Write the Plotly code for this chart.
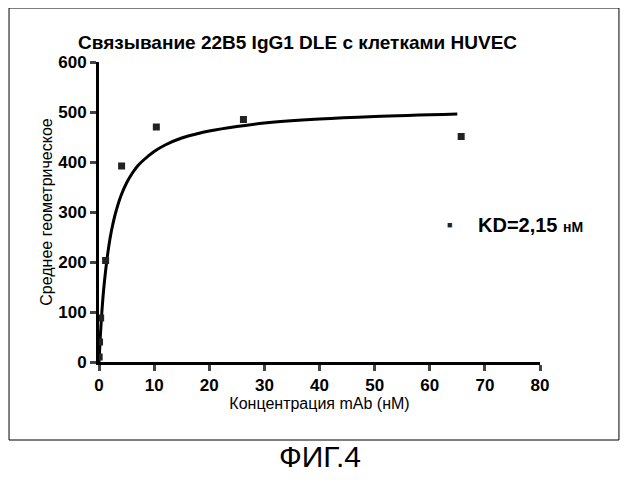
import plotly.graph_objects as go

# measured points
conc = [0.03, 0.1, 0.3, 1.2, 4.1, 10.4, 26.2, 65.7]
mfi = [10, 40, 88, 203, 392, 470, 485, 451]

# fitted curve
fit_x = [0, 0.25, 0.5, 0.75, 1, 1.5, 2, 2.5, 3, 4, 5, 6, 7, 8, 10, 12, 15, 18, 20, 25, 30, 40, 50, 65]
fit_y = [0, 53, 97, 133, 162, 210, 247, 275, 298, 333, 358, 377, 392, 403, 421, 434, 448, 457, 462, 471, 478, 486, 491, 496]

font = 'Liberation Sans, Arial'

fig = go.Figure()
fig.add_trace(go.Scatter(x=fit_x, y=fit_y, mode='lines', line_shape='spline',
                         line=dict(color='black', width=3), showlegend=False))
fig.add_trace(go.Scatter(x=conc, y=mfi, mode='markers',
                         marker=dict(symbol='square', size=7, color='#222'),
                         showlegend=False))

fig.update_layout(
    width=628, height=500,
    margin=dict(l=91, r=96, t=54, b=146),
    plot_bgcolor='white', paper_bgcolor='white',
    font=dict(family=font, color='black'),
    xaxis=dict(range=[0, 80], dtick=10, showline=True, linewidth=3, linecolor='black',
               ticks='outside', ticklen=6, tickwidth=3, showgrid=False, zeroline=False,
               tickfont=dict(size=17, family=font, weight='bold'),
               title=dict(text='Концентрация mAb (нМ)', font=dict(size=16), standoff=4)),
    yaxis=dict(range=[0, 600], dtick=100, showline=True, linewidth=3, linecolor='black',
               ticks='outside', ticklen=6, tickwidth=3, showgrid=False, zeroline=False,
               tickfont=dict(size=17, family=font, weight='bold'),
               title=dict(text='Среднее геометрическое', font=dict(size=16), standoff=2)),
    shapes=[dict(type='rect', xref='paper', yref='paper', x0=-0.204, x1=1.179,
                 y0=-0.26, y1=1.18, line=dict(color='black', width=1))],
    annotations=[
        dict(text='<b>Связывание 22B5 IgG1 DLE с клетками HUVEC</b>', xref='paper', yref='paper',
             x=0.45, y=1.107, showarrow=False, font=dict(size=19)),
        dict(text='■', xref='paper', yref='paper', x=0.805, y=0.457, showarrow=False,
             font=dict(size=9, color='#222')),
        dict(text='<b>KD=2,15 </b><span style="font-size:14px"><b>нМ</b></span>',
             xref='paper', yref='paper', x=0.855, y=0.457, xanchor='left', showarrow=False,
             font=dict(size=20)),
        dict(text='ФИГ.4', xref='paper', yref='paper', x=0.5, y=-0.377, showarrow=False,
             font=dict(size=30)),
    ],
)

fig.write_html('out.html')
